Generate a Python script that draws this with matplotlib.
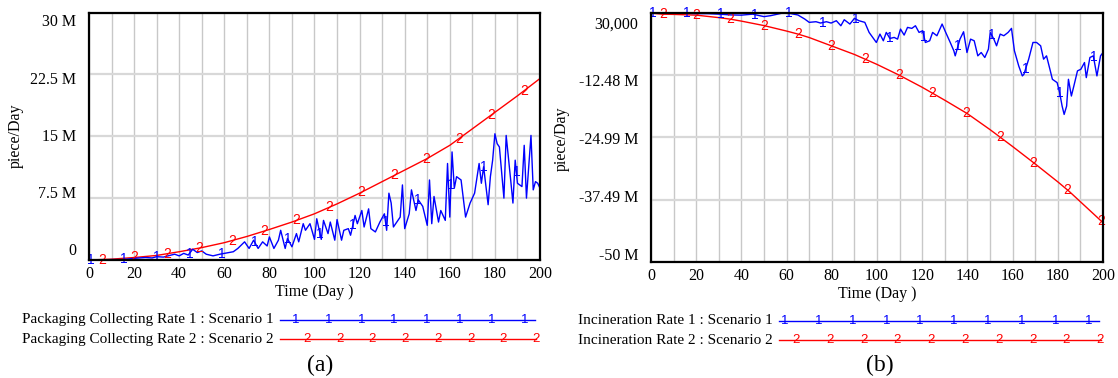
import numpy as np
import matplotlib
matplotlib.use('Agg')
from matplotlib import pyplot as plt

plt.rcParams['font.family'] = 'Liberation Serif'

# (a) packaging collecting rate, million piece/Day
t_col_1 = [0, 5, 10, 15, 20, 25, 28, 30, 33, 35, 38, 40, 42, 44, 46, 48, 50, 52, 55, 58,
           60, 62, 64, 66, 69, 71, 73, 75, 77, 79, 80, 82, 84, 85, 87, 88, 90, 92, 93, 95,
           96, 98, 100, 101, 103, 104, 106, 107, 109, 110, 112, 113, 115, 116, 118, 119,
           121, 122, 124, 125, 127, 129, 131, 132, 133, 134, 135, 136, 138, 139, 140, 142,
           143, 145, 146, 148, 150, 151, 152, 153, 155, 156, 158, 159, 160, 161, 162, 163,
           165, 167, 169, 171, 173, 174, 175, 177, 178, 179, 180, 181, 182, 184, 185, 187,
           188, 189, 190, 192, 193, 194, 196, 197, 198, 199, 200]
v_col_1 = [0, 0.02, 0.05, 0.05, 0.2, 0.3, 0.25, 0.4, 0.35, 0.5, 0.7, 0.5, 0.8, 0.6, 1.3, 0.9,
           1.1, 0.7, 0.5, 0.7, 0.8, 0.9, 1.0, 1.4, 2.2, 1.4, 2.4, 1.4, 2.2, 1.7, 2.8, 1.4, 2.4,
           3.6, 1.4, 2.6, 1.6, 3.2, 2.2, 4.4, 3.6, 4.4, 2.5, 5.0, 2.5, 4.8, 3.2, 4.6, 2.4, 4.9,
           2.4, 3.6, 3.8, 3.0, 5.4, 4.4, 6.0, 4.0, 6.2, 3.8, 3.4, 4.6, 5.6, 3.6, 8.1, 6.9, 4.0,
           4.4, 5.2, 9.1, 3.8, 5.6, 8.5, 6.0, 7.3, 6.5, 4.2, 9.7, 4.4, 7.7, 4.6, 6.0, 4.8, 11.7,
           5.2, 13.1, 8.7, 10.1, 9.7, 5.2, 6.9, 8.1, 11.7, 9.3, 11.3, 6.7, 10.1, 12.1, 15.3,
           14.1, 13.7, 7.5, 15.1, 9.7, 6.9, 12.1, 9.3, 8.9, 13.9, 7.5, 15.1, 8.5, 9.5, 9.3, 8.7]
t_col_2 = [0, 10, 20, 30, 40, 50, 60, 70, 80, 90, 100, 110, 120, 130, 140, 150, 160, 170,
           180, 190, 200]
v_col_2 = [0, 0.1, 0.3, 0.55, 1.0, 1.5, 2.1, 2.85, 3.7, 4.6, 5.6, 6.8, 8.1, 9.5, 10.9, 12.3,
           13.9, 15.9, 17.9, 19.9, 22.0]

# (b) incineration rate, million piece/Day
t_inc_1 = [0, 10, 15, 20, 25, 30, 35, 40, 45, 48, 50, 53, 55, 58, 60, 62, 65, 68, 70, 73,
           75, 77.6, 79.7, 82, 84, 85.5, 88, 90, 92, 94.6, 96.5, 99.7, 101.3, 102.8, 104.1,
           105.7, 107.6, 109.1, 110.4, 112, 113.5, 115.4, 117, 118.6, 120.2, 121.4, 123.3,
           124.6, 126.5, 128.8, 130.4, 132.4, 134, 134.6, 136.7, 138.3, 139.8, 141.4, 143,
           144.6, 146.1, 147.7, 149.3, 150.1, 151.7, 152.9, 154.5, 156.1, 158, 159.5, 160.8,
           162.7, 164.3, 165, 167.1, 169, 170.6, 172.4, 173.7, 175, 176.5, 177.6, 179.7, 180.8,
           181.9, 182.8, 183.9, 184.7, 186, 187.1, 188.7, 190.2, 191.8, 192.6, 194.2, 195.7,
           197.3, 198.9, 200]
v_inc_1 = [0.0, 0.0, 0.0, -0.1, -0.1, -0.2, -0.35, -0.4, -0.2, -0.5, -0.7, -0.5, -0.3, 0.0,
           0.0, -0.1, -0.37, -1.18, -1.85, -1.72, -1.99, -1.72, -1.99, -1.52, -2.53, -1.32,
           -2.19, -1.05, -1.52, -1.85, -3.87, -5.89, -4.21, -5.55, -3.87, -5.08, -4.88, -5.22,
           -3.2, -4.41, -2.86, -3.06, -2.53, -3.87, -3.53, -5.89, -5.55, -3.87, -4.54, -2.19,
           -3.87, -5.89, -7.57, -8.58, -5.22, -3.74, -7.91, -5.22, -5.55, -8.58, -7.91, -8.91,
           -7.23, -3.87, -5.22, -6.56, -4.21, -4.54, -3.87, -3.06, -7.57, -10.6, -12.61, -12.28,
           -9.25, -5.89, -5.89, -6.56, -9.25, -8.58, -11.27, -13.29, -13.96, -15.98, -18.67,
           -20.35, -18.67, -13.29, -16.65, -14.63, -11.6, -11.27, -9.92, -12.95, -8.91, -8.58,
           -12.61, -8.58, -7.91]
t_inc_2 = [0, 5, 10, 20, 30, 35, 40, 50, 60, 65, 70, 80, 90, 95, 100, 110, 120, 125, 130,
           140, 150, 155, 160, 170, 180, 185, 190, 200]
v_inc_2 = [0, -0.2, -0.25, -0.4, -0.9, -1.2, -1.6, -2.5, -3.6, -4.2, -4.9, -6.6, -8.3, -9.3,
           -10.3, -12.5, -14.9, -16.2, -17.5, -20.2, -23.4, -25.1, -26.8, -30.3, -33.9, -35.8,
           -37.9, -42.1]

x_ticks = list(range(0, 201, 20))
col_yticks = [0, 7.5, 15, 22.5, 30]
col_ylabels = ['0', '7.5 M', '15 M', '22.5 M', '30 M']
inc_yticks = [-50, -37.4925, -24.985, -12.4775, 0.03]
inc_ylabels = ['-50 M', '-37.49 M', '-24.99 M', '-12.48 M', '30,000']

BLUE = '#0000ff'
RED = '#ff0000'
FS = 11.5

fig = plt.figure(figsize=(11.18, 3.78), dpi=100)


def panel(rect, t1, v1, t2, v2, yticks, ylabels, m1, m2, lab_span):
    ax = fig.add_axes(rect)
    ax.set_xlim(0, 200)
    ax.set_ylim(yticks[0], yticks[-1])
    ax.set_xticks(range(0, 201, 10), minor=True)
    ax.set_xticks(x_ticks)
    ax.set_xticklabels([str(x) for x in x_ticks], fontsize=FS)
    ax.set_yticks(yticks)
    ax.set_yticklabels([])
    ax.tick_params(which='both', length=0, pad=4)
    ax.grid(True, axis='x', which='both', color='#c8c8c8', lw=1.0)
    ax.grid(True, axis='y', color='#d8d8d8', lw=1.6)
    for s in ax.spines.values():
        s.set_linewidth(1.6)
        s.set_zorder(5)
    # y labels sit slightly inside the grid like the original software
    for yf, lab in zip(np.linspace(lab_span[0], lab_span[1], len(ylabels)), ylabels):
        ax.text(-0.028, yf, lab, transform=ax.transAxes, ha='right', va='center',
                fontsize=FS)
    ax.plot(t2, v2, color=RED, lw=1.0, zorder=3)
    ax.plot(t1, v1, color=BLUE, lw=1.0, zorder=3)
    for tm in m2:
        ax.text(tm, np.interp(tm, t2, v2), '2', color=RED, fontsize=10,
                family='Liberation Sans', ha='center', va='center', zorder=4)
    for tm in m1:
        ax.text(tm, np.interp(tm, t1, v1), '1', color=BLUE, fontsize=10,
                family='Liberation Sans', ha='center', va='center', zorder=4)
    ax.set_xlabel('Time (Day )', fontsize=FS, labelpad=2)
    return ax


ax1 = panel([0.0796, 0.3122, 0.4034, 0.6547], t_col_1, v_col_1, t_col_2, v_col_2,
            col_yticks, col_ylabels, np.arange(1, 200, 14.5), np.arange(5.7, 200, 14.4),
            (0.035, 0.96))
ax2 = panel([0.5823, 0.3069, 0.4043, 0.6587], t_inc_1, v_inc_1, t_inc_2, v_inc_2,
            inc_yticks, inc_ylabels, np.arange(0.8, 200, 15), np.arange(5.3, 201, 14.9),
            (0.025, 0.955))

fig.text(16 / 1118, 1 - 136 / 378, 'piece/Day', rotation=90, ha='center', va='center',
         fontsize=FS)
fig.text(562 / 1118, 1 - 139 / 378, 'piece/Day', rotation=90, ha='center', va='center',
         fontsize=FS)

# legends drawn in pixel coordinates
lg = fig.add_axes([0, 0, 1, 1])
lg.set_xlim(0, 1118)
lg.set_ylim(378, 0)
lg.axis('off')
lg.patch.set_alpha(0)


def legend_row(x0, x1, y, text, color, num, first, step, count):
    lg.text(x0 - 6, y, text, ha='right', va='center', fontsize=11)
    lg.plot([x0, x1], [y, y], color=color, lw=1.0)
    for k in range(count):
        lg.text(first + k * step, y, num, color=color, fontsize=9.5,
                family='Liberation Sans', ha='center', va='center')


legend_row(280, 535, 320, 'Packaging Collecting Rate 1 : Scenario 1', BLUE, '1', 296, 32.7, 8)
legend_row(280, 536, 339, 'Packaging Collecting Rate 2 : Scenario 2', RED, '2', 307, 32.7, 8)
legend_row(779, 1099, 321, 'Incineration Rate 1 : Scenario 1', BLUE, '1', 785, 33.8, 10)
legend_row(779, 1101, 340, 'Incineration Rate 2 : Scenario 2', RED, '2', 796, 33.8, 10)

lg.text(320, 365, '(a)', ha='center', va='center', fontsize=17)
lg.text(880, 365, '(b)', ha='center', va='center', fontsize=17)

fig.savefig('out.png', dpi=100)
